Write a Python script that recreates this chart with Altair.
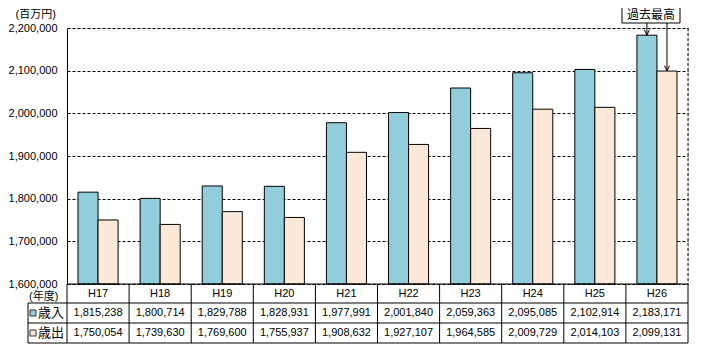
import altair as alt
import pandas as pd

years = ["H17", "H18", "H19", "H20", "H21", "H22", "H23", "H24", "H25", "H26"]
revenue = [1815238, 1800714, 1829788, 1828931, 1977991, 2001840, 2059363, 2095085, 2102914, 2183171]
expense = [1750054, 1739630, 1769600, 1755937, 1908632, 1927107, 1964585, 2009729, 2014103, 2099131]
series = ["歳入", "歳出"]
colors = ["#92CDDC", "#FDE9D9"]
y_ticks = [1600000, 1700000, 1800000, 1900000, 2000000, 2100000, 2200000]
unit_label = "(百万円)"
year_label = "(年度)"
note = "過去最高"
note_year = "H26"

rows = []
for i, yr in enumerate(years):
    rows.append({"cat": yr, "series": series[0], "value": revenue[i]})
    rows.append({"cat": yr, "series": series[1], "value": expense[i]})
df = pd.DataFrame(rows)
wide = pd.DataFrame({"cat": years, "rev": revenue, "exp": expense})
one = pd.DataFrame({"k": [0]})

W, H = 621, 256
FONT = "Liberation Sans, Noto Sans CJK JP, sans-serif"
FS = 11
R1, R2, R3, R4 = 275, 295, 315, -39  # table row lines / left column edge

xscale = alt.Scale(domain=years, paddingInner=0, paddingOuter=0)
yscale = alt.Scale(domain=[y_ticks[0], y_ticks[-1]], zero=False, nice=False)
xoff = alt.XOffset("series:N", sort=series,
                   scale=alt.Scale(domain=series, paddingInner=0, paddingOuter=0.55))
X = alt.X("cat:N", scale=xscale, sort=years, axis=None)
cscale = alt.Scale(domain=series, range=colors)
Y = alt.Y("value:Q", scale=yscale,
          axis=alt.Axis(values=y_ticks, format=",d", grid=True, gridDash=[3, 2],
                        gridColor="black", gridOpacity=1, domainColor="black",
                        ticks=False, labelPadding=10, labelFontSize=FS,
                        labelColor="black", title=unit_label, titleAngle=0,
                        titleX=-52, titleY=-14, titleAlign="left",
                        titleBaseline="middle", titleFontWeight="normal",
                        titleFontSize=FS, titleColor="black"))

bars = alt.Chart(df).mark_bar(stroke="black", strokeWidth=1).encode(
    x=X,
    xOffset=xoff,
    y=Y,
    y2=alt.datum(y_ticks[0]),
    color=alt.Color("series:N", scale=cscale, legend=None),
)

right_border = alt.Chart(one).mark_rule(color="black", strokeDash=[3, 2]).encode(
    x=alt.value(W), y=alt.value(0), y2=alt.value(H))

base_line = alt.Chart(one).mark_rule(color="black").encode(
    x=alt.value(0), x2=alt.value(W), y=alt.value(H))
hlines = [alt.Chart(one).mark_rule(color="black").encode(
    x=alt.value(R4), x2=alt.value(W), y=alt.value(v)) for v in (R1, R2, R3)]
left_col = alt.Chart(one).mark_rule(color="black").encode(
    x=alt.value(R4), y=alt.value(R1), y2=alt.value(R3))
vlines = alt.Chart(wide).mark_rule(color="black").encode(
    x=alt.X("cat:N", scale=xscale, sort=years, axis=None, bandPosition=0),
    y=alt.value(H), y2=alt.value(R3))
right_table = alt.Chart(one).mark_rule(color="black").encode(
    x=alt.value(W), y=alt.value(H), y2=alt.value(R3))

cat_text = alt.Chart(wide).mark_text(fontSize=FS, color="black").encode(
    x=X, y=alt.value((H + R1) / 2), text="cat:N")
rev_text = alt.Chart(wide).mark_text(fontSize=FS, color="black").encode(
    x=X, y=alt.value((R1 + R2) / 2), text=alt.Text("rev:Q", format=",d"))
exp_text = alt.Chart(wide).mark_text(fontSize=FS, color="black").encode(
    x=X, y=alt.value((R2 + R3) / 2), text=alt.Text("exp:Q", format=",d"))

year_text = alt.Chart(one).mark_text(fontSize=FS, color="black", align="left").encode(
    x=alt.value(-38), y=alt.value(269), text=alt.value(year_label))

legend_layers = []
for i, (s, c) in enumerate(zip(series, colors)):
    yy = (R1 + R2) / 2 if i == 0 else (R2 + R3) / 2
    legend_layers.append(alt.Chart(one).mark_square(
        size=36, fill=c, stroke="#333", strokeWidth=1, opacity=1).encode(
        x=alt.value(-34), y=alt.value(yy)))
    legend_layers.append(alt.Chart(one).mark_text(fontSize=13, color="black", align="left").encode(
        x=alt.value(-29), y=alt.value(yy), text=alt.value(s)))

note_df = df[df["cat"] == note_year]
arrows = alt.Chart(note_df).mark_rule(color="black").encode(
    x=X, xOffset=xoff, y=alt.Y("value:Q", scale=yscale), y2=alt.value(-5))
heads = alt.Chart(note_df).mark_point(
    shape="M-0.6,-1.3L0,0L0.6,-1.3", size=70, stroke="black", filled=False, strokeWidth=1, opacity=1
).encode(x=X, xOffset=xoff, y=alt.Y("value:Q", scale=yscale))
note_box = alt.Chart(one).mark_rect(fill="white", stroke="black", strokeWidth=1).encode(
    x=alt.value(555), x2=alt.value(613), y=alt.value(-21), y2=alt.value(-5))
note_text = alt.Chart(one).mark_text(fontSize=12, color="black").encode(
    x=alt.value(584), y=alt.value(-13), text=alt.value(note))

chart = alt.layer(
    bars, right_border, base_line, *hlines, left_col, vlines, right_table,
    cat_text, rev_text, exp_text, year_text, *legend_layers,
    arrows, heads, note_box, note_text,
).properties(
    width=W, height=H,
    autosize=alt.AutoSizeParams(type="none"),
    padding={"left": 59, "top": 20, "right": 7, "bottom": 69},
).configure_view(stroke=None).configure(font=FONT)

chart.save("out.html", embed_options={"renderer": "svg", "actions": False})
